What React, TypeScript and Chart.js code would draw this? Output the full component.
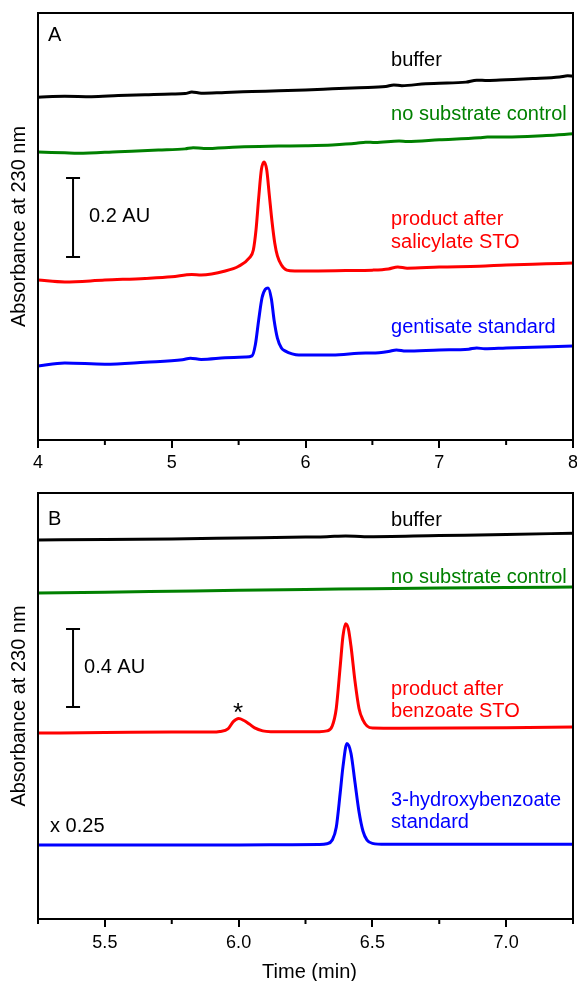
import { useEffect, useRef } from 'react';
import { Chart, registerables } from 'chart.js';

Chart.register(...registerables);

const FONT = '"Liberation Sans", Arial, Helvetica, sans-serif';

// ---------------- Panel A data (time in min, absorbance in AU incl. offset) ----------------
const tA_buffer = [4.0, 4.2, 4.4, 4.6, 4.8, 5.0, 5.1, 5.15, 5.22, 5.4, 5.6, 5.8, 6.0, 6.2, 6.4, 6.6, 6.66, 6.72, 6.9, 7.0, 7.2, 7.28, 7.36, 7.5, 7.7, 7.9, 7.96, 8.0];
const aA_buffer = [0.868, 0.870, 0.869, 0.872, 0.874, 0.876, 0.877, 0.881, 0.878, 0.880, 0.882, 0.884, 0.886, 0.889, 0.892, 0.895, 0.899, 0.897, 0.902, 0.903, 0.906, 0.911, 0.910, 0.912, 0.915, 0.919, 0.922, 0.921];

const tA_control = [4.0, 4.2, 4.3, 4.6, 4.9, 5.1, 5.16, 5.24, 5.5, 5.8, 6.0, 6.2, 6.38, 6.45, 6.52, 6.7, 6.76, 7.0, 7.3, 7.36, 7.5, 7.8, 8.0];
const aA_control = [0.729, 0.727, 0.726, 0.730, 0.734, 0.737, 0.740, 0.738, 0.742, 0.744, 0.745, 0.747, 0.751, 0.754, 0.753, 0.757, 0.756, 0.760, 0.765, 0.767, 0.767, 0.771, 0.775];

const tA_product = [4.0, 4.2, 4.5, 4.8, 5.0, 5.15, 5.22, 5.4, 5.5, 5.58, 5.61, 5.63, 5.65, 5.67, 5.69, 5.71, 5.73, 5.75, 5.77, 5.79, 5.82, 5.86, 5.92, 6.0, 6.3, 6.5, 6.62, 6.69, 6.76, 7.0, 7.3, 7.5, 7.8, 8.0];
const aA_product = [0.405, 0.400, 0.405, 0.409, 0.413, 0.419, 0.418, 0.428, 0.440, 0.461, 0.481, 0.532, 0.613, 0.684, 0.704, 0.684, 0.618, 0.552, 0.499, 0.466, 0.443, 0.430, 0.428, 0.428, 0.429, 0.430, 0.433, 0.438, 0.435, 0.438, 0.440, 0.443, 0.446, 0.448];

const tA_standard = [4.0, 4.2, 4.5, 4.8, 5.08, 5.14, 5.22, 5.4, 5.55, 5.6, 5.625, 5.65, 5.675, 5.70, 5.72, 5.745, 5.765, 5.79, 5.82, 5.85, 5.9, 5.95, 6.2, 6.45, 6.5, 6.62, 6.68, 6.75, 7.0, 7.22, 7.28, 7.34, 7.5, 8.0];
const aA_standard = [0.187, 0.195, 0.192, 0.197, 0.203, 0.207, 0.204, 0.208, 0.210, 0.213, 0.241, 0.304, 0.360, 0.382, 0.385, 0.357, 0.304, 0.258, 0.233, 0.225, 0.218, 0.215, 0.215, 0.220, 0.220, 0.224, 0.228, 0.225, 0.228, 0.230, 0.233, 0.231, 0.233, 0.238];

const ticksA = [4, 4.5, 5, 5.5, 6, 6.5, 7, 7.5, 8];
const tickLabelsA = ['4', '', '5', '', '6', '', '7', '', '8'];

// ---------------- Panel B data ----------------
const tB_buffer = [5.25, 5.5, 5.75, 6.0, 6.25, 6.33, 6.4, 6.47, 6.75, 7.0, 7.25];
const aB_buffer = [1.944, 1.946, 1.949, 1.954, 1.959, 1.961, 1.965, 1.961, 1.967, 1.972, 1.979];

const tB_control = [5.25, 5.5, 5.75, 6.0, 6.25, 6.5, 6.75, 7.0, 7.25];
const aB_control = [1.672, 1.676, 1.681, 1.686, 1.690, 1.694, 1.698, 1.700, 1.703];

const tB_product = [5.25, 5.5, 5.75, 5.9, 5.93, 5.96, 5.98, 6.0, 6.02, 6.04, 6.06, 6.09, 6.12, 6.2, 6.3, 6.33, 6.35, 6.365, 6.38, 6.39, 6.40, 6.41, 6.42, 6.435, 6.45, 6.465, 6.48, 6.5, 6.6, 7.0, 7.25];
const aB_product = [0.954, 0.956, 0.959, 0.959, 0.962, 0.975, 1.012, 1.028, 1.018, 1.000, 0.980, 0.965, 0.961, 0.960, 0.961, 0.965, 0.990, 1.08, 1.30, 1.45, 1.515, 1.49, 1.40, 1.22, 1.08, 1.02, 0.99, 0.980, 0.979, 0.981, 0.985];

const tB_standard = [5.25, 5.5, 5.75, 6.0, 6.2, 6.3, 6.33, 6.35, 6.365, 6.38, 6.39, 6.405, 6.42, 6.435, 6.45, 6.465, 6.48, 6.5, 6.55, 7.0, 7.25];
const aB_standard = [0.379, 0.379, 0.380, 0.380, 0.381, 0.382, 0.386, 0.405, 0.47, 0.65, 0.78, 0.900, 0.85, 0.70, 0.55, 0.45, 0.405, 0.388, 0.383, 0.383, 0.384];

const ticksB = [5.25, 5.5, 5.75, 6.0, 6.25, 6.5, 6.75, 7.0, 7.25];
const tickLabelsB = ['', '5.5', '', '6.0', '', '6.5', '', '7.0', ''];

const BLACK = '#000000';
const GREEN = '#008000';
const RED = '#ff0000';
const BLUE = '#0000ff';

type Label = {
  text: string;
  x: number;
  y: number;
  color: string;
  align?: CanvasTextAlign;
  size?: number;
  baseline?: CanvasTextBaseline;
};

type PanelDef = {
  height: number;
  xMin: number;
  xMax: number;
  yMax: number;
  axisHeight: number;
  tickPad: number;
  ticks: number[];
  tickLabels: string[];
  traces: { t: number[]; a: number[]; color: string }[];
  bar: { x: number; y0: number; len: number };
  labels: Label[];
  xTitle?: { text: string; x: number; y: number };
};

const panelA: PanelDef = {
  height: 480,
  xMin: 4,
  xMax: 8,
  yMax: 1.081,
  axisHeight: 40,
  tickPad: 4,
  ticks: ticksA,
  tickLabels: tickLabelsA,
  traces: [
    { t: tA_buffer, a: aA_buffer, color: BLACK },
    { t: tA_control, a: aA_control, color: GREEN },
    { t: tA_product, a: aA_product, color: RED },
    { t: tA_standard, a: aA_standard, color: BLUE },
  ],
  bar: { x: 4.262, y0: 0.463, len: 0.2 },
  labels: [
    { text: 'A', x: 4.075, y: 1.023, color: BLACK },
    { text: 'buffer', x: 6.64, y: 0.962, color: BLACK },
    { text: 'no substrate control', x: 6.64, y: 0.823, color: GREEN },
    { text: 'product after', x: 6.64, y: 0.557, color: RED },
    { text: 'salicylate STO', x: 6.64, y: 0.501, color: RED },
    { text: 'gentisate standard', x: 6.64, y: 0.286, color: BLUE },
    { text: '0.2 AU', x: 4.381, y: 0.565, color: BLACK },
  ],
};

const panelB: PanelDef = {
  height: 501,
  xMin: 5.25,
  xMax: 7.25,
  yMax: 2.185,
  axisHeight: 62,
  tickPad: 5,
  ticks: ticksB,
  tickLabels: tickLabelsB,
  traces: [
    { t: tB_buffer, a: aB_buffer, color: BLACK },
    { t: tB_control, a: aB_control, color: GREEN },
    { t: tB_product, a: aB_product, color: RED },
    { t: tB_standard, a: aB_standard, color: BLUE },
  ],
  bar: { x: 5.381, y0: 1.087, len: 0.4 },
  labels: [
    { text: 'B', x: 5.287, y: 2.051, color: BLACK },
    { text: 'buffer', x: 6.57, y: 2.046, color: BLACK },
    { text: 'no substrate control', x: 6.57, y: 1.754, color: GREEN },
    { text: '0.4 AU', x: 5.422, y: 1.292, color: BLACK },
    { text: '*', x: 5.998, y: 1.018, color: BLACK, align: 'center', size: 26, baseline: 'alphabetic' },
    { text: 'product after', x: 6.57, y: 1.179, color: RED },
    { text: 'benzoate STO', x: 6.57, y: 1.062, color: RED },
    { text: '3-hydroxybenzoate', x: 6.57, y: 0.610, color: BLUE },
    { text: 'standard', x: 6.57, y: 0.497, color: BLUE },
    { text: 'x 0.25', x: 5.295, y: 0.472, color: BLACK },
  ],
  xTitle: { text: 'Time (min)', x: 6.265, y: 492 },
};

function makePlugin(p: PanelDef) {
  return {
    id: 'panelDecor',
    afterDraw(chart: any) {
      const ctx: CanvasRenderingContext2D = chart.ctx;
      const area = chart.chartArea;
      const xs = chart.scales.x;
      const ys = chart.scales.y;
      ctx.save();
      // frame
      ctx.strokeStyle = BLACK;
      ctx.lineWidth = 2;
      ctx.strokeRect(area.left, area.top, area.right - area.left, area.bottom - area.top);
      // minor ticks
      p.ticks.forEach((v, i) => {
        if (p.tickLabels[i] !== '') return;
        const px = xs.getPixelForValue(v);
        ctx.beginPath();
        ctx.moveTo(px, area.bottom);
        ctx.lineTo(px, area.bottom + 5);
        ctx.stroke();
      });
      // scale bar
      const bx = xs.getPixelForValue(p.bar.x);
      const by0 = ys.getPixelForValue(p.bar.y0);
      const by1 = ys.getPixelForValue(p.bar.y0 + p.bar.len);
      ctx.beginPath();
      ctx.moveTo(bx, by0);
      ctx.lineTo(bx, by1);
      ctx.moveTo(bx - 7, by0);
      ctx.lineTo(bx + 7, by0);
      ctx.moveTo(bx - 7, by1);
      ctx.lineTo(bx + 7, by1);
      ctx.stroke();
      // labels
      p.labels.forEach((l) => {
        ctx.font = `${l.size || 20}px ${FONT}`;
        ctx.textBaseline = l.baseline || 'middle';
        ctx.fillStyle = l.color;
        ctx.textAlign = l.align || 'left';
        ctx.fillText(l.text, xs.getPixelForValue(l.x), ys.getPixelForValue(l.y));
      });
      // y title
      ctx.font = `20px ${FONT}`;
      ctx.textBaseline = 'middle';
      ctx.fillStyle = BLACK;
      ctx.textAlign = 'center';
      ctx.save();
      ctx.translate(19, (area.top + area.bottom) / 2);
      ctx.rotate(-Math.PI / 2);
      ctx.fillText('Absorbance at 230 nm', 0, 0);
      ctx.restore();
      if (p.xTitle) {
        ctx.textAlign = 'center';
        ctx.fillText(p.xTitle.text, xs.getPixelForValue(p.xTitle.x), p.xTitle.y);
      }
      ctx.restore();
    },
  };
}

function buildConfig(p: PanelDef): any {
  return {
    type: 'line',
    data: {
      datasets: p.traces.map((tr) => ({
        data: tr.t.map((t, i) => ({ x: t, y: tr.a[i] })),
        borderColor: tr.color,
        backgroundColor: tr.color,
        borderWidth: 3,
        pointRadius: 0,
        cubicInterpolationMode: 'monotone',
        fill: false,
      })),
    },
    options: {
      animation: false,
      responsive: false,
      maintainAspectRatio: false,
      layout: { padding: { left: 38, right: 4, top: 13, bottom: 0 } },
      plugins: { legend: { display: false }, tooltip: { enabled: false } },
      scales: {
        x: {
          type: 'linear',
          min: p.xMin,
          max: p.xMax,
          afterBuildTicks: (scale: any) => {
            scale.ticks = p.ticks.map((v) => ({ value: v }));
          },
          afterFit: (scale: any) => {
            scale.height = p.axisHeight;
            scale.paddingLeft = 0;
            scale.paddingRight = 0;
          },
          ticks: {
            autoSkip: false,
            maxRotation: 0,
            minRotation: 0,
            padding: p.tickPad,
            color: BLACK,
            font: { family: FONT, size: 18 },
            callback: (_v: any, i: number) => p.tickLabels[i],
          },
          grid: {
            drawOnChartArea: false,
            drawTicks: true,
            tickLength: 8,
            lineWidth: 2,
            tickWidth: 2,
            tickColor: (c: any) => (p.tickLabels[c.index] === '' ? 'rgba(0,0,0,0)' : BLACK),
          },
          border: { display: false },
        },
        y: { type: 'linear', display: false, min: 0, max: p.yMax },
      },
    },
    plugins: [makePlugin(p)],
  };
}

function Panel({ def }: { def: PanelDef }) {
  const ref = useRef<HTMLCanvasElement>(null);
  useEffect(() => {
    if (!ref.current) return;
    const chart = new Chart(ref.current, buildConfig(def));
    return () => chart.destroy();
  }, [def]);
  return (
    <canvas
      ref={ref}
      width={577}
      height={def.height}
      style={{ display: 'block', width: 577, height: def.height }}
    />
  );
}

export default function App() {
  useEffect(() => {
    document.body.style.margin = '0';
  }, []);
  return (
    <div style={{ position: 'absolute', left: 0, top: 0, width: 577, height: 981, background: '#ffffff' }}>
      <Panel def={panelA} />
      <Panel def={panelB} />
    </div>
  );
}
